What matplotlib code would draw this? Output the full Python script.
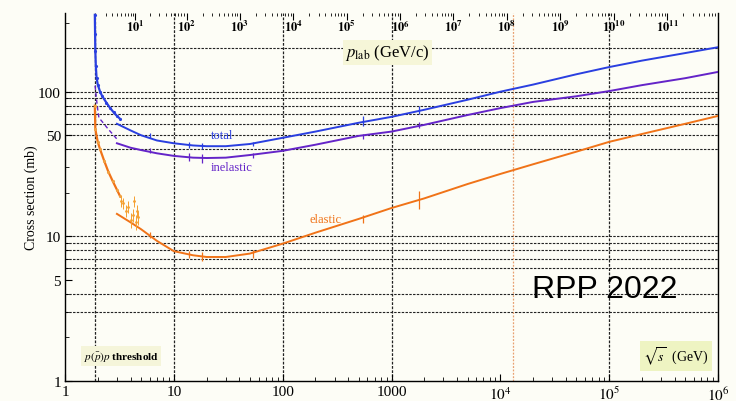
import numpy as np
import matplotlib.pyplot as plt
from matplotlib.ticker import NullFormatter

plt.rcParams['mathtext.fontset'] = 'stix'
plt.rcParams['font.family'] = ['Liberation Serif', 'DejaVu Serif']

M_P = 0.938  # proton mass, GeV

# fitted curves, sqrt(s) in GeV, sigma in mb
rs_fit = [3, 4, 5, 7, 10, 15, 20, 30, 50, 100, 200, 500, 1000, 2000, 5000,
          1e4, 2e4, 5e4, 1e5, 2e5, 5e5, 1e6]
sig_total = [60, 54, 50, 46, 44, 42.5, 42, 42, 43.5, 48, 53, 61, 67, 75, 88,
             100, 112, 132, 148, 164, 185, 203]
sig_inel = [44, 41, 39.5, 37.5, 36, 35, 34.8, 35, 36.5, 39, 43, 49.5, 53, 59, 69,
            77, 85, 93, 101, 111, 124, 137]
sig_el = [14.3, 12.5, 11.2, 9.3, 7.9, 7.4, 7.2, 7.2, 7.6, 8.9, 10.6, 13.2, 15.7,
          18.3, 23, 27, 31.5, 38.5, 45, 51, 60, 68]

# low energy data near threshold
rs_low_tot = [1.88, 1.89, 1.9, 1.92, 1.95, 2.0, 2.1, 2.2, 2.4, 2.6, 2.8, 3.0, 3.2]
sig_low_tot = [340, 250, 190, 150, 125, 112, 100, 93, 84, 77, 72, 68, 65]
rs_low_inel = [1.89, 1.92, 1.95, 2.0, 2.05, 2.2, 2.5, 2.8, 3.0]
sig_low_inel = [110, 98, 88, 75, 66, 62, 55, 50, 47]
rs_low_el = [1.88, 1.9, 2.0, 2.1, 2.3, 2.5, 2.75, 3.0, 3.2]
sig_low_el = [80, 55, 45, 40, 33, 28, 24, 21, 19]
rs_el_pts = [3.3, 3.4, 3.6, 3.8, 4.0, 4.2, 4.3, 4.5, 4.6, 4.7]
sig_el_pts = [17.5, 17, 15, 16, 13, 14, 17.5, 12.5, 15, 13.5]

# error bar points on the curves
rs_err = [6, 13.8, 18, 53, 546, 1800]
tot_err = [50, 43, 42, 43.5, 63, 75]
tot_dy = [2, 2, 2, 1.5, 5, 5]
inel_err = [39, 35.4, 34.8, 36.4, 49, 59]
inel_dy = [1.5, 2, 2.5, 1.5, 2, 3]
el_err = [10.2, 7.5, 7.3, 7.6, 13.2, 18]
el_dy = [0.5, 0.4, 0.5, 0.5, 0.8, 2.5]

plab_ticks = [10 ** k for k in range(1, 12)]
h_grid = [3, 4, 6, 7, 8, 9, 10, 40, 50, 60, 70, 80, 90, 100, 200]
v_grid = [1.88, 10, 100, 1000, 1e5]
lhc = 13000

BLUE = '#2a3fe0'
PURPLE = '#6424c8'
ORANGE = '#f07318'
BG = '#fdfdf6'


def plab_to_rs(p):
    p = np.asarray(p, dtype=float)
    return np.sqrt(2 * M_P ** 2 + 2 * M_P * np.sqrt(p ** 2 + M_P ** 2))


fig = plt.figure(figsize=(7.36, 4.02), dpi=100, facecolor=BG)
ax = fig.add_axes([65 / 736, 20 / 402, 653 / 736, 368 / 402], facecolor=BG)
ax.set_xscale('log')
ax.set_yscale('log')
ax.set_xlim(1, 1e6)
ax.set_ylim(1, 350)

grid_ls = (0, (2.2, 1.2))
for v in h_grid:
    ax.axhline(v, color='#222222', lw=0.8, ls=grid_ls, zorder=1)
for v in v_grid:
    ax.axvline(v, color='#222222', lw=0.9, ls=grid_ls, zorder=1)
ax.axvline(lhc, color='#e8a070', lw=0.9, ls=(0, (1.5, 1.2)), zorder=1)

# curves
ax.plot(rs_fit, sig_total, color=BLUE, lw=1.4, zorder=3)
ax.plot(rs_fit, sig_inel, color=PURPLE, lw=1.4, zorder=3)
ax.plot(rs_fit, sig_el, color=ORANGE, lw=1.4, zorder=3)

ax.plot(rs_low_tot, sig_low_tot, color=BLUE, lw=1.6, zorder=3)
ax.plot(rs_low_tot, sig_low_tot, '.', color=BLUE, ms=2.5, zorder=3)
ax.plot(rs_low_inel, sig_low_inel, color=PURPLE, lw=1.0, ls=(0, (3, 2)), zorder=3)
ax.plot(rs_low_el, sig_low_el, color=ORANGE, lw=1.6, zorder=3)
ax.plot(rs_low_el, sig_low_el, '.', color='#f0a040', ms=2.5, zorder=3)
ax.errorbar(rs_el_pts, sig_el_pts, yerr=1.5, fmt='.', color='#f5a030', ms=2,
            elinewidth=0.7, zorder=3)

ax.errorbar(rs_err, tot_err, yerr=tot_dy, fmt='none', ecolor=BLUE, elinewidth=0.9, zorder=4)
ax.errorbar(rs_err, inel_err, yerr=inel_dy, fmt='none', ecolor=PURPLE, elinewidth=0.9, zorder=4)
ax.errorbar(rs_err, el_err, yerr=el_dy, fmt='none', ecolor=ORANGE, elinewidth=0.9, zorder=4)

# curve labels
ax.text(27.5, 50.5, 'total', color=BLUE, fontsize=9, ha='center', va='center', zorder=5)
ax.text(34, 30, 'inelastic', color=PURPLE, fontsize=9, ha='center', va='center', zorder=5)
ax.text(250, 13.2, 'elastic', color=ORANGE, fontsize=9, ha='center', va='center', zorder=5)

# axes styling
for s in ['left', 'bottom', 'right']:
    ax.spines[s].set_color('#333333')
    ax.spines[s].set_linewidth(1.0)
ax.spines['top'].set_visible(False)

ax.set_xticks([1, 10, 100, 1000, 1e4, 1e5, 1e6])
ax.set_xticklabels(['1', '10', '100', '1000', r'$10^4$', r'$10^5$', r'$10^6$'])
ax.set_yticks([1, 5, 10, 50, 100])
ax.set_yticklabels(['1', '5', '10', '50', '100'])
ax.yaxis.set_minor_formatter(NullFormatter())
ax.xaxis.set_minor_formatter(NullFormatter())
ax.tick_params(which='major', direction='in', length=5, labelsize=11, pad=3)
ax.tick_params(which='minor', direction='in', length=3)
ax.tick_params(axis='y', which='both', right=False)
ax.tick_params(axis='x', which='both', top=False)
ax.set_ylabel('Cross section (mb)', fontsize=10, labelpad=0)

# top p_lab axis
ax2 = ax.twiny()
ax2.set_xscale('log')
ax2.set_xlim(ax.get_xlim())
ax2.spines['top'].set_visible(False)
ax2.set_xticks(plab_to_rs(plab_ticks))
ax2.set_xticklabels([r'$\mathbf{10^{%d}}$' % k for k in range(1, 12)])
minor_p = [m * 10 ** k for k in range(0, 12) for m in range(2, 10)]
ax2.set_xticks(plab_to_rs(minor_p), minor=True)
ax2.xaxis.set_minor_formatter(NullFormatter())
ax2.tick_params(which='major', direction='in', length=5, labelsize=9, pad=-15)
ax2.tick_params(which='minor', direction='in', length=2.5)

fig.text(345 / 736, 1 - 53 / 402, r'$p_{\rm lab}$ (GeV/c)', fontsize=12,
         va='center', ha='left',
         bbox=dict(boxstyle='square,pad=0.15', fc='#f6f6d8', ec='none'))
fig.text(676 / 736, 1 - 357 / 402, r'$\sqrt{s}$  (GeV)', fontsize=10,
         va='center', ha='center',
         bbox=dict(boxstyle='square,pad=0.25', fc='#eef4c2', ec='none'))
fig.text(121 / 736, 1 - 357 / 402, r'$p(\bar{p})p$ threshold', fontsize=8,
         fontweight='bold', va='center', ha='center',
         bbox=dict(boxstyle='square,pad=0.25', fc='#f5f5da', ec='none'))
fig.text(605 / 736, 1 - 290 / 402, 'RPP 2022', fontsize=23,
         family=['Liberation Sans', 'DejaVu Sans'], va='center', ha='center', color='black')

fig.savefig('out.png', dpi=100, facecolor=BG)
